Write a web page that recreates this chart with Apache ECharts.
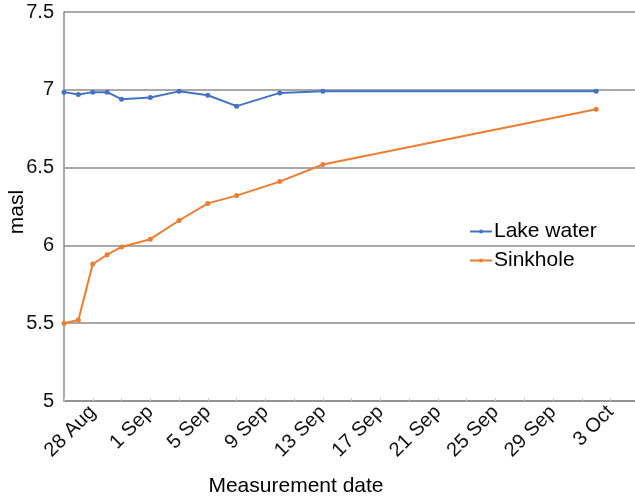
<!DOCTYPE html>
<html>
<head>
<meta charset="utf-8">
<script src="https://cdn.jsdelivr.net/npm/echarts@6/dist/echarts.min.js"></script>
<style>
html,body{margin:0;padding:0;background:#fff;}
#c{width:635px;height:497px;}
</style>
</head>
<body>
<div id="c"></div>
<script>
var dates = ['2020-08-26','2020-08-27','2020-08-28','2020-08-29','2020-08-30','2020-09-01','2020-09-03','2020-09-05','2020-09-07','2020-09-10','2020-09-13','2020-10-02'];
var lakeWater = [6.985, 6.97, 6.985, 6.985, 6.94, 6.95, 6.99, 6.965, 6.895, 6.98, 6.99, 6.99];
var sinkhole = [5.50, 5.52, 5.88, 5.94, 5.99, 6.04, 6.16, 6.27, 6.32, 6.41, 6.52, 6.875];
var yTicks = [5, 5.5, 6, 6.5, 7, 7.5];
var axisStart = '2020-08-26';
var axisEndDays = 39.7;
var monthNames = ['Jan','Feb','Mar','Apr','May','Jun','Jul','Aug','Sep','Oct','Nov','Dec'];

var DAY = 86400000;
function toTs(s){ var p = s.split('-'); return Date.UTC(+p[0], +p[1]-1, +p[2]); }
var t0 = toTs(axisStart);
function dayOf(s){ return Math.round((toTs(s) - t0) / DAY); }

var lakeData = dates.map(function(d,i){ return [dayOf(d), lakeWater[i]]; });
var sinkData = dates.map(function(d,i){ return [dayOf(d), sinkhole[i]]; });

var chart = echarts.init(document.getElementById('c'), null, {renderer:'canvas'});
var font = 'Liberation Sans, Arial, sans-serif';
var grid = '#8c8c8c';
chart.setOption({
  animation: false,
  backgroundColor: '#fff',
  grid: {left: 64, right: 0, top: 12, bottom: 96, containLabel: false, outerBoundsMode: 'none'},
  legend: {
    orient: 'vertical',
    left: 464, top: 216,
    itemWidth: 22, itemHeight: 5, itemGap: 8,
    textStyle: {fontFamily: font, fontSize: 21, color: '#000', padding: [0,0,0,-3]},
    data: ['Lake water', 'Sinkhole']
  },
  xAxis: {
    type: 'value',
    min: 0, max: axisEndDays, interval: 2,
    axisLine: {show: true, lineStyle: {color: grid, width: 1.5}},
    axisTick: {show: true, length: 3, inside: true, lineStyle: {color: '#cfcfcf', width: 1}},
    splitLine: {show: false},
    axisLabel: {
      rotate: 45, margin: 8,
      fontFamily: font, fontSize: 20, color: '#111',
      showMaxLabel: false,
      formatter: function(v){
        var d = Math.round(v);
        if (Math.abs(v - d) > 1e-6) return '';
        if (d < 2 || (d - 2) % 4 !== 0) return '';
        var dt = new Date(t0 + d * DAY);
        return dt.getUTCDate() + ' ' + monthNames[dt.getUTCMonth()];
      }
    }
  },
  yAxis: {
    type: 'value',
    min: yTicks[0], max: yTicks[yTicks.length-1], interval: 0.5,
    axisLine: {show: true, lineStyle: {color: grid, width: 1.5}},
    axisTick: {show: false},
    splitLine: {show: true, lineStyle: {color: grid, width: 1.5}},
    axisLabel: {fontFamily: font, fontSize: 20, color: '#111', margin: 10,
      formatter: function(v){ return String(v); }}
  },
  graphic: [{
    type: 'text',
    style: {x: 296, y: 486, text: 'Measurement date', fontFamily: font, fontSize: 21, fill: '#000', align: 'center', verticalAlign: 'middle'}
  }, {
    type: 'text',
    x: 17, y: 212, rotation: Math.PI / 2,
    style: {x: 0, y: 0, text: 'masl', fontFamily: font, fontSize: 21, fill: '#000', align: 'center', verticalAlign: 'middle'}
  }],
  series: [
    {name: 'Lake water', type: 'line', data: lakeData,
     symbol: 'circle', symbolSize: 5, showSymbol: true,
     lineStyle: {color: '#4472C4', width: 2}, itemStyle: {color: '#4472C4'}},
    {name: 'Sinkhole', type: 'line', data: sinkData,
     symbol: 'circle', symbolSize: 5, showSymbol: true,
     lineStyle: {color: '#ED7D31', width: 2}, itemStyle: {color: '#ED7D31'}}
  ]
});
</script>
</body>
</html>
